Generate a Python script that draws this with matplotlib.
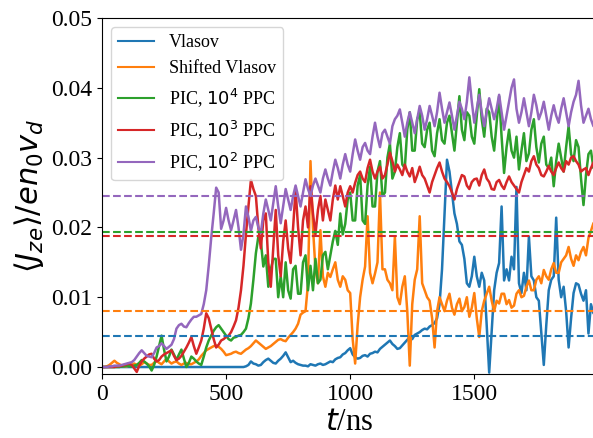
import numpy as np
import matplotlib
matplotlib.use("Agg")
import matplotlib.pyplot as plt
import matplotlib.ticker as mticker

plt.rcParams['font.family'] = 'serif'
plt.rcParams['font.serif'] = ['Liberation Serif', 'DejaVu Serif']
plt.rcParams['mathtext.fontset'] = 'dejavusans'

# time grid in ns (one sample every 10 ns)
t = np.arange(0, 2000, 10)

# values in units of 1e-3, one row per 100 ns
vlasov = [0] * 50 + [
    0, 0, 0, 0, 0, 0, 0, 0, 0.1, 0.3,
    0.8, 0.5, 0.4, 0.2, 0.3, 0.7, 1.0, 1.2, 0.9, 0.6,
    0.5, 0.9, 1.2, 1.6, 2.1, 1.4, 0.7, 0.9, 0.6, 0.4,
    0.3, 0.2, 0.2, 0.1, 0.4, 0.3, 0.2, 0.4, 0.5, 0.3,
    0.4, 0.6, 0.8, 0.7, 1.1, 1.3, 1.4, 1.8, 2.0, 2.4,
    2.7, 1.8, 1.4, 1.2, 1.3, 1.6, 1.7, 1.5, 1.9, 2.0,
    2.2, 2.1, 2.6, 2.9, 3.2, 3.5, 3.8, 3.3, 3.0, 2.6,
    2.7, 3.1, 3.5, 3.9, 4.3, 4.0, 4.6, 4.8, 5.0, 5.3,
    5.5, 5.4, 5.8, 6.0, 6.3, 7.0, 9.0, 14.0, 22.0, 29.7,
    28.0, 25.0, 22.0, 20.5, 18.0, 17.5, 15.5, 12.0, 11.5, 13.0,
    15.8, 13.0, 11.5, 13.5, 12.4, 6.0, -0.8, 5.0, 11.0, 13.5,
    14.9, 23.0, 12.4, 14.0, 12.4, 15.8, 14.0, 25.8, 12.0, 10.6,
    13.5, 11.0, 18.7, 13.0, 12.4, 10.0, 9.5, 5.0, 0.3, 6.0,
    11.0, 12.5, 13.0, 21.4, 12.5, 10.0, 11.5, 8.0, 2.8, 7.0,
    10.6, 12.0, 11.8, 10.5, 9.5, 11.0, 4.8, 9.0, 7.7, 8.5]

shifted = [
    0, 0, 0.1, 0.3, 0.6, 0.9, 0.6, 0.4, 0.2, 0.1,
    0.1, 0.2, 0.3, 0.5, 0.3, 0.2, 0.4, 0.7, 0.5, 0.3,
    0.3, 0.6, 0.9, 0.6, 0.4, 0.8, 1.2, 0.8, 0.5, 0.7,
    0.8, 0.5, 0.3, 0.5, 0.6, 0.4, 0.4, 0.6, 0.8, 1.1,
    1.6, 2.0, 2.4, 2.6, 2.8, 3.0, 3.1, 2.9, 2.6, 2.2,
    1.7, 1.8, 1.9, 2.1, 2.2, 2.0, 1.9, 2.2, 2.5, 2.7,
    3.0, 3.4, 3.8, 3.5, 3.2, 2.9, 2.6, 2.8, 3.0, 3.3,
    3.6, 3.9, 4.0, 3.8, 3.7, 4.2, 4.6, 5.0, 5.5, 6.2,
    7.5, 7.8, 8.0, 12.0, 29.5, 20.0, 14.0, 12.0, 19.6, 13.0,
    11.5, 13.5, 12.9, 14.0, 15.0, 12.5, 11.5, 13.0, 12.5, 11.0,
    10.6, 4.0, 0.5, 6.0, 10.0, 12.5, 14.4, 21.6, 13.5, 12.0,
    13.4, 15.0, 25.0, 14.0, 14.0, 12.5, 12.0, 11.0, 18.7, 10.0,
    9.0, 11.5, 13.0, 8.0, 0.2, 9.0, 12.5, 14.0, 21.6, 12.0,
    11.0, 10.0, 9.5, 7.0, 2.8, 8.0, 10.0, 9.0, 8.0, 9.5,
    10.5, 8.5, 7.5, 9.0, 9.8, 8.0, 8.6, 10.0, 7.2, 8.5,
    10.6, 7.0, 4.3, 8.0, 9.5, 10.5, 11.5, 9.5, 8.0, 9.5,
    9.1, 10.5, 10.5, 9.0, 9.6, 8.5, 8.8, 10.5, 11.0, 10.0,
    10.2, 11.5, 12.4, 11.0, 11.0, 12.5, 13.0, 12.0, 13.9, 13.0,
    12.5, 14.0, 14.9, 13.5, 13.5, 15.0, 15.5, 16.0, 17.2, 15.5,
    14.5, 16.0, 15.3, 16.5, 17.2, 16.0, 18.5, 19.5, 20.6, 21.0]

pic_1e4 = [
    0, 0, 0, 0, 0, 0, 0, 0, 0.1, 0.1,
    0.2, 0.1, 0.1, 0.2, 0.3, 0.6, 1.0, 0.8, 0.5, 0.1,
    -0.5, 0.3, 1.5, 3.0, 4.5, 2.5, 0.8, 1.5, 2.5, 1.8,
    1.0, 1.8, 2.5, 1.2, 0.0, 0.6, 1.5, 1.2, 0.8, 0.5,
    0.3, 1.5, 2.8, 3.8, 4.5, 5.2, 5.7, 6.0, 5.5, 5.0,
    4.5, 4.0, 3.8, 4.2, 4.3, 4.5, 4.6, 5.0, 5.5, 7.0,
    9.1, 12.5, 16.3, 18.7, 18.0, 14.4, 16.0, 11.5, 14.0, 15.5,
    15.5, 10.0, 13.0, 10.0, 15.0, 11.0, 9.8, 14.0, 14.5, 10.5,
    10.5, 15.0, 16.0, 11.0, 14.5, 11.0, 15.5, 12.0, 12.5, 16.0,
    16.5, 14.0, 16.0, 18.0, 19.5, 17.5, 22.0, 19.0, 20.5, 24.0,
    25.0, 21.0, 21.0, 26.0, 27.5, 21.0, 20.5, 26.0, 28.7, 23.0,
    23.0, 28.0, 29.5, 24.5, 25.0, 30.0, 32.0, 27.0, 28.0, 31.5,
    33.5, 29.0, 28.5, 34.0, 36.5, 31.0, 31.0, 35.5, 36.5, 32.0,
    31.5, 34.0, 35.0, 31.0, 30.2, 33.5, 35.5, 32.5, 32.0, 35.0,
    36.0, 33.5, 31.0, 35.0, 38.8, 34.0, 32.5, 36.5, 36.0, 33.0,
    32.0, 36.0, 39.8, 35.5, 33.0, 37.0, 36.5, 33.0, 31.0, 35.0,
    38.8, 33.0, 27.8, 31.5, 34.0, 31.0, 30.0, 33.0, 28.3, 31.0,
    33.5, 29.5, 30.6, 34.0, 35.5, 31.5, 29.3, 32.0, 33.0, 29.0,
    28.5, 30.0, 25.9, 29.5, 32.0, 30.0, 28.0, 31.5, 34.5, 30.5,
    29.5, 32.5, 31.5, 27.0, 23.2, 27.5, 30.5, 31.0, 28.5, 29.5]

pic_1e3 = [
    0, 0, 0, 0, 0, 0, 0.1, 0.1, 0.2, 0.3,
    0.4, 0.5, 0.3, -0.2, -0.7, 0.2, 0.8, 1.2, 1.5, 1.8,
    1.9, 1.2, 0.8, 1.0, 1.5, 1.8, 2.0, 2.2, 2.4, 1.6,
    1.0, 1.2, 1.6, 2.2, 2.8, 3.5, 4.3, 3.0, 1.9, 2.8,
    3.8, 5.5, 7.7, 7.0, 5.5, 4.0, 2.8, 3.2, 3.8, 4.0,
    4.3, 4.5, 5.0, 5.8, 6.7, 8.5, 11.0, 14.5, 19.0, 23.0,
    26.8, 25.5, 24.5, 20.0, 17.0, 21.0, 22.0, 15.0, 11.5, 17.0,
    22.5, 16.0, 13.0, 18.0, 21.0, 17.0, 14.9, 20.0, 25.4, 20.0,
    16.0, 21.0, 23.0, 20.0, 25.9, 22.0, 19.0, 22.5, 24.5, 21.0,
    24.0, 22.5, 21.0, 24.0, 26.0, 24.0, 25.9, 24.5, 23.0, 25.0,
    25.9, 25.0, 26.4, 27.5, 28.0, 27.0, 26.5, 28.5, 29.7, 28.0,
    27.0, 28.0, 28.7, 27.0, 27.5, 29.0, 30.7, 29.5, 28.0, 29.0,
    28.3, 27.5, 29.0, 28.0, 27.3, 28.5, 26.5, 27.5, 28.7, 27.5,
    27.0, 26.0, 25.0, 26.5, 27.5, 28.5, 29.3, 28.0, 27.0, 26.5,
    25.9, 25.0, 24.0, 25.5, 26.5, 27.5, 27.3, 26.0, 25.5, 26.5,
    26.9, 27.0, 26.0, 27.5, 28.3, 27.0, 26.5, 25.5, 25.4, 26.5,
    26.8, 26.0, 25.5, 26.5, 27.3, 26.5, 26.0, 25.5, 25.0, 26.5,
    27.5, 28.5, 28.0, 29.5, 30.2, 29.0, 28.5, 27.5, 27.3, 28.0,
    28.8, 28.0, 27.5, 28.5, 29.3, 28.5, 28.0, 29.5, 29.0, 30.0,
    30.2, 29.5, 29.0, 28.0, 28.3, 28.5, 27.5, 28.5, 29.3, 28.5]

pic_1e2 = [
    0, 0, 0, 0.1, 0.1, 0.2, 0.2, 0.2, 0.3, 0.4,
    0.5, 0.6, 0.7, 1.0, 1.5, 2.0, 2.4, 2.0, 1.6, 1.5,
    1.4, 2.0, 2.8, 3.0, 3.4, 3.0, 2.6, 2.9, 3.2, 4.0,
    5.5, 6.0, 6.2, 5.8, 5.7, 6.3, 6.8, 7.2, 7.2, 7.4,
    7.6, 9.0, 11.0, 14.5, 18.5, 22.0, 25.7, 25.0, 19.8, 21.0,
    22.8, 21.0, 19.6, 21.0, 22.5, 20.0, 16.8, 19.0, 23.0, 21.5,
    19.5, 21.0, 21.5, 20.0, 19.2, 22.0, 24.0, 22.5, 21.0, 23.5,
    25.9, 23.0, 20.6, 23.0, 25.5, 24.0, 22.5, 24.5, 26.0, 24.5,
    23.0, 25.0, 26.9, 25.5, 24.5, 26.0, 27.0, 26.0, 25.0, 27.0,
    28.3, 27.0, 26.0, 28.0, 29.7, 28.5, 27.0, 29.0, 30.5, 29.0,
    28.0, 30.5, 32.6, 31.0, 29.7, 31.5, 32.1, 31.0, 30.5, 33.0,
    35.0, 33.0, 31.5, 33.5, 34.0, 33.0, 32.0, 34.5, 35.5, 36.0,
    36.9, 35.0, 33.0, 35.0, 36.5, 35.0, 33.5, 35.5, 37.4, 36.0,
    34.0, 35.5, 37.4, 36.0, 34.5, 36.5, 39.3, 37.0, 35.0, 36.5,
    37.9, 36.0, 34.0, 36.0, 38.0, 37.0, 35.5, 38.0, 41.5, 38.0,
    35.0, 37.0, 39.0, 36.5, 34.5, 36.5, 38.5, 37.0, 35.5, 37.0,
    39.0, 36.5, 34.0, 36.0, 38.0, 40.0, 41.2, 37.0, 35.0, 36.5,
    38.5, 36.5, 34.5, 36.5, 39.0, 37.5, 35.5, 36.5, 38.0, 36.0,
    34.0, 36.0, 37.5, 36.0, 35.0, 37.0, 38.5, 36.5, 34.5, 36.5,
    38.0, 39.0, 41.0, 37.5, 35.0, 36.0, 37.0, 35.5, 34.5, 35.5]

labels = ['Vlasov', 'Shifted Vlasov', 'PIC, $10^4$ PPC',
          'PIC, $10^3$ PPC', 'PIC, $10^2$ PPC']
# mean levels (dashed lines), units of 1e-3
means = [4.5, 8.0, 19.3, 18.8, 24.5]

colors = ['#1f77b4', '#ff7f0e', '#2ca02c', '#d62728', '#9467bd']

fig = plt.figure(figsize=(5.93, 4.38), dpi=100)
ax = fig.add_axes([0.172, 0.1461, 0.835, 0.8128])

series = [vlasov, shifted, pic_1e4, pic_1e3, pic_1e2]
for s, lab, c in zip(series, labels, colors):
    ax.plot(t, np.array(s) * 1e-3, color=c, lw=1.8, label=lab)
for m, c in zip(means, colors):
    ax.axhline(m * 1e-3, color=c, ls='--', lw=1.5)

ax.set_xlim(0, 1995)
ax.set_ylim(-0.001, 0.05)
ax.set_xticks([0, 500, 1000, 1500])
ax.set_yticks([0.0, 0.01, 0.02, 0.03, 0.04, 0.05])
ax.yaxis.set_major_formatter(mticker.FormatStrFormatter('%.2f'))
ax.tick_params(labelsize=17)
ax.set_xlabel(r'$t$/ns', fontsize=22, labelpad=2)
ax.set_ylabel(r'$\langle J_{ze}\rangle/en_0v_d$', fontsize=22, labelpad=4)
leg = ax.legend(loc='upper left', fontsize=13)
for line in leg.get_lines():
    line.set_linewidth(1.5)

fig.savefig('out.png', dpi=100)
